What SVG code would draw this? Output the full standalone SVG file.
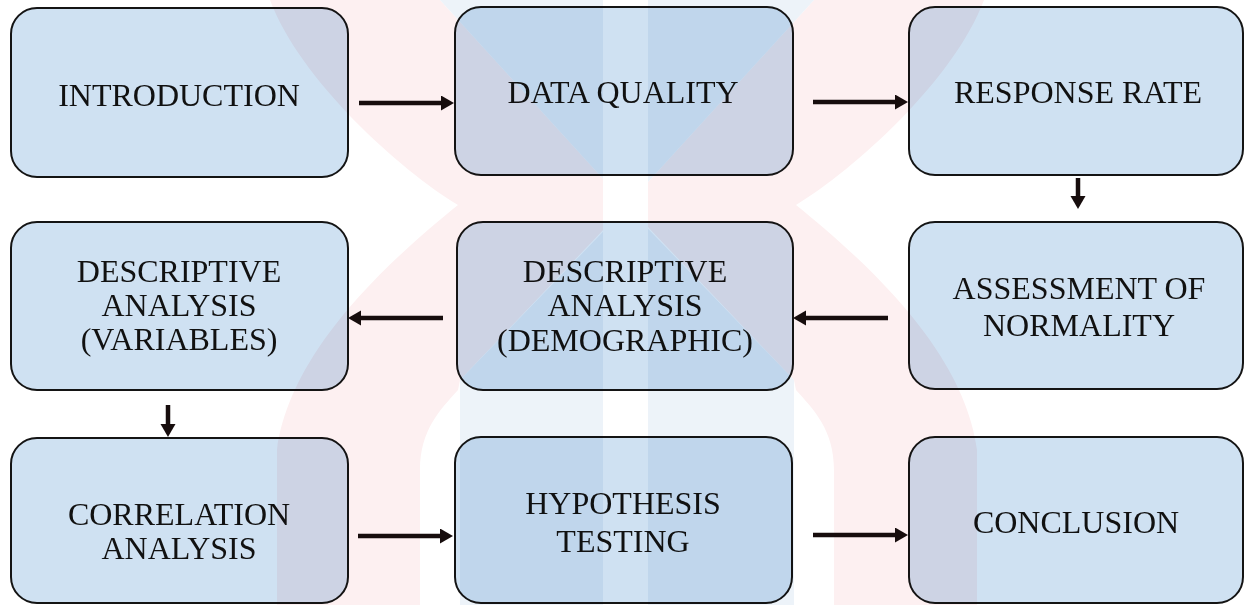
<svg xmlns="http://www.w3.org/2000/svg" width="1244" height="605" viewBox="0 0 1244 605">
<style>
.box{fill:#cfe1f2;stroke:#141414;stroke-width:2}
.lbl{font-family:"Liberation Serif","Times New Roman",serif;font-size:32px;fill:#111;text-anchor:middle}
.arr{stroke:#170d0d;stroke-width:4.5;fill:none;marker-end:url(#ah)}
.wm{mix-blend-mode:multiply}
</style>
<defs>
<marker id="ah" markerUnits="userSpaceOnUse" markerWidth="14" markerHeight="16" refX="3" refY="7.5" orient="auto">
<path d="M0,0 L13,7.5 L0,15 Z" fill="#170d0d"/>
</marker>
<clipPath id="stripe">
<rect x="0" y="0" width="603" height="605"/>
<rect x="648" y="0" width="596" height="605"/>
</clipPath>
</defs>
<rect x="0" y="0" width="1244" height="605" fill="#ffffff"/>

<g id="connectors">
<line class="arr" x1="359" y1="103" x2="444" y2="103"/>
<line class="arr" x1="813" y1="102" x2="898" y2="102"/>
<line class="arr" x1="1078" y1="178" x2="1078" y2="199"/>
<line class="arr" x1="888" y1="318" x2="803" y2="318"/>
<line class="arr" x1="443" y1="318" x2="358" y2="318"/>
<line class="arr" x1="168" y1="405" x2="168" y2="427"/>
<line class="arr" x1="358" y1="536" x2="443" y2="536"/>
<line class="arr" x1="813" y1="535" x2="898" y2="535"/>
</g>

<g id="n-introduction">
<rect class="box" x="11" y="8" width="337" height="169" rx="26"/>
<text class="lbl" x="179" y="106">INTRODUCTION</text>
</g>
<g id="n-data-quality">
<rect class="box" x="455" y="7" width="338" height="168" rx="26"/>
<text class="lbl" x="623" y="103">DATA QUALITY</text>
</g>
<g id="n-response-rate">
<rect class="box" x="909" y="7" width="334" height="168" rx="26"/>
<text class="lbl" x="1078" y="103">RESPONSE RATE</text>
</g>
<g id="n-desc-variables">
<rect class="box" x="11" y="222" width="337" height="168" rx="26"/>
<text class="lbl" x="179" y="282">DESCRIPTIVE</text>
<text class="lbl" x="179" y="316">ANALYSIS</text>
<text class="lbl" x="179" y="350">(VARIABLES)</text>
</g>
<g id="n-desc-demographic">
<rect class="box" x="457" y="222" width="336" height="168" rx="26"/>
<text class="lbl" x="625" y="282">DESCRIPTIVE</text>
<text class="lbl" x="625" y="316">ANALYSIS</text>
<text class="lbl" x="625" y="351">(DEMOGRAPHIC)</text>
</g>
<g id="n-normality">
<rect class="box" x="909" y="222" width="334" height="167" rx="26"/>
<text class="lbl" x="1079" y="299">ASSESSMENT OF</text>
<text class="lbl" x="1079" y="336">NORMALITY</text>
</g>
<g id="n-correlation">
<rect class="box" x="11" y="438" width="337" height="165" rx="26"/>
<text class="lbl" x="179" y="525">CORRELATION</text>
<text class="lbl" x="179" y="559">ANALYSIS</text>
</g>
<g id="n-hypothesis">
<rect class="box" x="455" y="437" width="337" height="166" rx="26"/>
<text class="lbl" x="623" y="514">HYPOTHESIS</text>
<text class="lbl" x="623" y="552">TESTING</text>
</g>
<g id="n-conclusion">
<rect class="box" x="909" y="437" width="334" height="166" rx="26"/>
<text class="lbl" x="1076" y="533">CONCLUSION</text>
</g>

<g id="watermark" class="wm" clip-path="url(#stripe)">
<path fill="#fdf0f1" d="M270 0 L440 0 L627 205 L460 380 L458 390 C440 410 420 430 420 470 L420 605 L277 605 L277 450 C290 350 390 260 458 205 C400 170 300 80 270 0 Z M984 0 L814 0 L627 205 L794 380 L796 390 C814 410 834 430 834 470 L834 605 L977 605 L977 450 C964 350 864 260 796 205 C854 170 954 80 984 0 Z"/>
<path fill="#edf3f9" d="M440 0 L814 0 L627 205 Z M627 207 L794 380 L794 605 L460 605 L460 380 Z"/>
</g>
</svg>
